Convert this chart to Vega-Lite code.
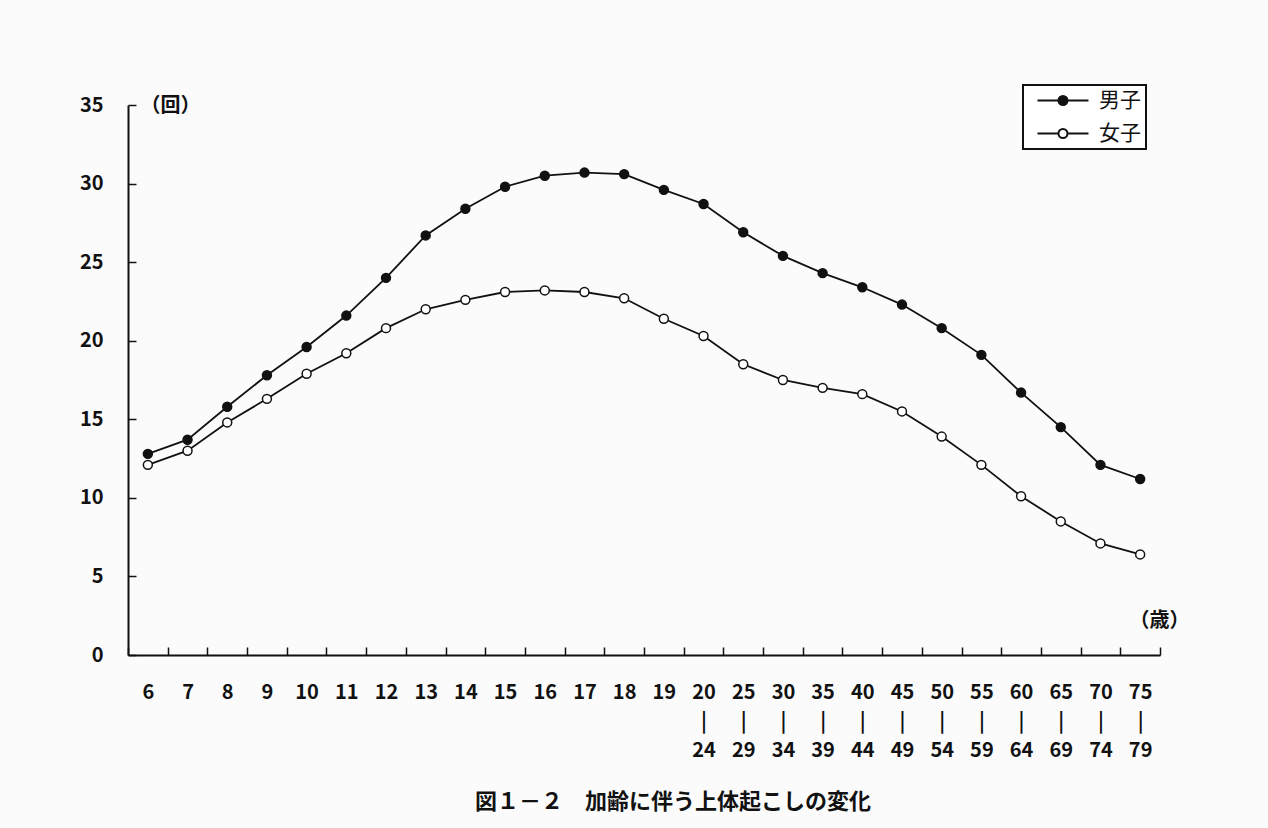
{
  "$schema": "https://vega.github.io/schema/vega-lite/v6.json",
  "width": 1032,
  "height": 550,
  "autosize": "none",
  "padding": {"left": 128, "top": 105, "right": 108, "bottom": 173},
  "background": "#fbfbfb",
  "config": {"view": {"stroke": null}, "font": "Noto Sans CJK JP"},
  "title": {
    "text": "図１－２　加齢に伴う上体起こしの変化",
    "orient": "bottom",
    "anchor": "middle",
    "offset": 32,
    "dx": 29,
    "fontSize": 22,
    "fontWeight": "bold",
    "color": "#111111"
  },
  "data": {
    "values": [
      {"age": "6", "sex": "男子", "value": 12.8},
      {"age": "7", "sex": "男子", "value": 13.7},
      {"age": "8", "sex": "男子", "value": 15.8},
      {"age": "9", "sex": "男子", "value": 17.8},
      {"age": "10", "sex": "男子", "value": 19.6},
      {"age": "11", "sex": "男子", "value": 21.6},
      {"age": "12", "sex": "男子", "value": 24.0},
      {"age": "13", "sex": "男子", "value": 26.7},
      {"age": "14", "sex": "男子", "value": 28.4},
      {"age": "15", "sex": "男子", "value": 29.8},
      {"age": "16", "sex": "男子", "value": 30.5},
      {"age": "17", "sex": "男子", "value": 30.7},
      {"age": "18", "sex": "男子", "value": 30.6},
      {"age": "19", "sex": "男子", "value": 29.6},
      {"age": "20-24", "sex": "男子", "value": 28.7},
      {"age": "25-29", "sex": "男子", "value": 26.9},
      {"age": "30-34", "sex": "男子", "value": 25.4},
      {"age": "35-39", "sex": "男子", "value": 24.3},
      {"age": "40-44", "sex": "男子", "value": 23.4},
      {"age": "45-49", "sex": "男子", "value": 22.3},
      {"age": "50-54", "sex": "男子", "value": 20.8},
      {"age": "55-59", "sex": "男子", "value": 19.1},
      {"age": "60-64", "sex": "男子", "value": 16.7},
      {"age": "65-69", "sex": "男子", "value": 14.5},
      {"age": "70-74", "sex": "男子", "value": 12.1},
      {"age": "75-79", "sex": "男子", "value": 11.2},
      {"age": "6", "sex": "女子", "value": 12.1},
      {"age": "7", "sex": "女子", "value": 13.0},
      {"age": "8", "sex": "女子", "value": 14.8},
      {"age": "9", "sex": "女子", "value": 16.3},
      {"age": "10", "sex": "女子", "value": 17.9},
      {"age": "11", "sex": "女子", "value": 19.2},
      {"age": "12", "sex": "女子", "value": 20.8},
      {"age": "13", "sex": "女子", "value": 22.0},
      {"age": "14", "sex": "女子", "value": 22.6},
      {"age": "15", "sex": "女子", "value": 23.1},
      {"age": "16", "sex": "女子", "value": 23.2},
      {"age": "17", "sex": "女子", "value": 23.1},
      {"age": "18", "sex": "女子", "value": 22.7},
      {"age": "19", "sex": "女子", "value": 21.4},
      {"age": "20-24", "sex": "女子", "value": 20.3},
      {"age": "25-29", "sex": "女子", "value": 18.5},
      {"age": "30-34", "sex": "女子", "value": 17.5},
      {"age": "35-39", "sex": "女子", "value": 17.0},
      {"age": "40-44", "sex": "女子", "value": 16.6},
      {"age": "45-49", "sex": "女子", "value": 15.5},
      {"age": "50-54", "sex": "女子", "value": 13.9},
      {"age": "55-59", "sex": "女子", "value": 12.1},
      {"age": "60-64", "sex": "女子", "value": 10.1},
      {"age": "65-69", "sex": "女子", "value": 8.5},
      {"age": "70-74", "sex": "女子", "value": 7.1},
      {"age": "75-79", "sex": "女子", "value": 6.4}
    ]
  },
  "encoding": {
    "x": {
      "field": "age",
      "type": "nominal",
      "sort": null,
      "scale": {"type": "band", "paddingInner": 0, "paddingOuter": 0},
      "axis": {
        "title": "（歳）",
        "titleX": 1031,
        "titleY": -35,
        "titleAlign": "center",
        "titleBaseline": "middle",
        "titleAngle": 0,
        "titleFontSize": 20,
        "titleFontWeight": "bold",
        "titleColor": "#111111",
        "labelAngle": 0,
        "labelFontSize": 20,
        "labelFontWeight": "bold",
        "labelColor": "#111111",
        "labelLineHeight": 29,
        "labelBaseline": "top",
        "labelPadding": 27,
        "labelExpr": "split(replace(datum.label, '-', '-|-'), '-')",
        "tickBand": "extent",
        "ticks": false,
        "grid": true,
        "gridDash": [0, 542, 8, 3000],
        "gridColor": "#111111",
        "gridWidth": 1.5,
        "gridOpacity": 1,
        "domainColor": "#111111",
        "domainWidth": 2
      }
    },
    "y": {
      "field": "value",
      "type": "quantitative",
      "scale": {"domain": [0, 35], "nice": false, "zero": true},
      "axis": {
        "title": "（回）",
        "titleX": 12,
        "titleY": 0,
        "titleAlign": "left",
        "titleBaseline": "middle",
        "titleAngle": 0,
        "titleFontSize": 20,
        "titleFontWeight": "bold",
        "titleColor": "#111111",
        "values": [0, 5, 10, 15, 20, 25, 30, 35],
        "labelFontSize": 20,
        "labelFontWeight": "bold",
        "labelColor": "#111111",
        "labelPadding": 25,
        "ticks": false,
        "grid": true,
        "gridDash": [8, 3000],
        "gridColor": "#111111",
        "gridWidth": 1.5,
        "gridOpacity": 1,
        "domainColor": "#111111",
        "domainWidth": 2
      }
    }
  },
  "layer": [
    {
      "mark": {"type": "line", "color": "#111111", "strokeWidth": 1.8},
      "encoding": {"detail": {"field": "sex", "type": "nominal"}}
    },
    {
      "mark": {"type": "point", "filled": true, "size": 80, "stroke": "#111111", "strokeWidth": 1.5, "opacity": 1},
      "encoding": {
        "fill": {
          "field": "sex",
          "type": "nominal",
          "scale": {"domain": ["男子", "女子"], "range": ["#111111", "#ffffff"]},
          "legend": {
            "title": null,
            "orient": "none",
            "legendX": 895,
            "legendY": -20,
            "padding": 5,
            "strokeColor": "#111111",
            "fillColor": "#ffffff",
            "labelFontSize": 21,
            "labelColor": "#111111",
            "labelOffset": 50,
            "rowPadding": 11,
            "symbolSize": 144,
            "symbolType": "M-0.17,0H3.33M4.83,0H8.33M4.83,0A0.75,0.75,0,1,1,3.33,0A0.75,0.75,0,1,1,4.83,0",
            "symbolStrokeColor": "#111111",
            "symbolStrokeWidth": 2,
            "symbolOpacity": 1,
            "encode": {"legend": {"update": {"strokeWidth": {"value": 2}}}}
          }
        }
      }
    }
  ]
}
